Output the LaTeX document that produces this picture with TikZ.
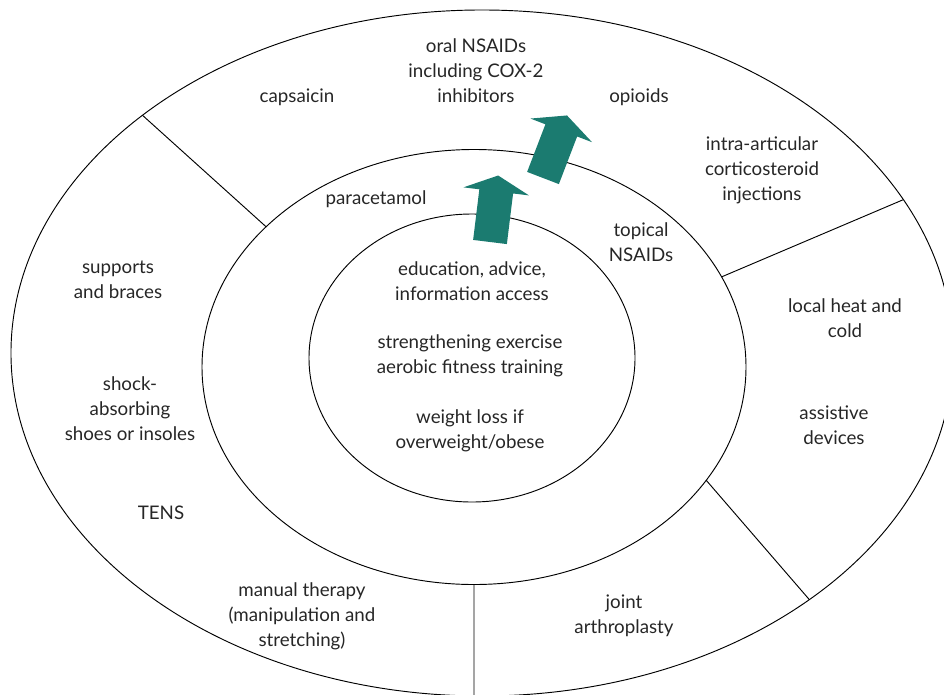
\documentclass[tikz,border=0pt]{standalone}
\usepackage{fontspec}
\setmainfont{Lato}
\usetikzlibrary{shapes.geometric}
\definecolor{tealarrow}{RGB}{27,123,112}
\begin{document}
\begin{tikzpicture}[x=0.03cm,y=-0.03cm,
  ring/.style={ellipse,draw,line width=0.8pt,inner sep=0pt,outer sep=0pt},
  lbl/.style={align=center,inner sep=0pt,font=\fontsize{16}{21.3}\selectfont,text=black!85},
  up/.style={fill=tealarrow}]
\useasboundingbox (0,0) rectangle (944,695);
\clip (0,0) rectangle (944,695);
% three rings
\node[ring,minimum width=28.26cm,minimum height=20.58cm] (outer) at (482,353) {};
\node[ring,minimum width=16.32cm,minimum height=13.05cm] (mid) at (474,367) {};
\node[ring,minimum width=9.78cm,minimum height=8.64cm] (core) at (472,358) {};
\draw[line width=0.8pt] (mid.146)--(outer.145) (mid.20)--(outer.20) (mid.-26)--(outer.-37) (mid.south)--(mid.south |- outer.south);
% core
\node[lbl] (edu) at (472,281) {education, advice,\\information access};
\node[lbl] (ex) at (470,356) {strengthening exercise\\aerobic fitness training};
\node[lbl] (wt) at (470,431) {weight loss if\\overweight/obese};
% middle ring
\node[lbl] (para) at (376,199) {paracetamol};
\node[lbl] (top) at (641,242) {topical\\NSAIDs};
% outer ring
\node[lbl] (oral) at (476,71) {oral NSAIDs\\including COX-2\\inhibitors};
\node[lbl] (caps) at (297,97) {capsaicin};
\node[lbl] (opi) at (639,97) {opioids};
\node[lbl] (intra) at (762,170) {intra-articular\\corticosteroid\\injections};
\node[lbl] (heat) at (845,318) {local heat and\\cold};
\node[lbl] (assist) at (834,425) {assistive\\devices};
\node[lbl] (joint) at (624,616) {joint\\arthroplasty};
\node[lbl] (manual) at (302,616) {manual therapy\\(manipulation and\\stretching)};
\node[lbl] (tens) at (161,513) {TENS};
\node[lbl] (shock) at (130,409) {shock-\\absorbing\\shoes or insoles};
\node[lbl] (supp) at (118,280) {supports\\and braces};
% step-up arrows
\fill[up,shift={(490,242)},rotate=-7] (-17,0)--(-17,-51)--(-33,-51)--(0,-67)--(33,-51)--(17,-51)--(17,0)--cycle;
\fill[up,shift={(543,178)},rotate=-21] (-17,0)--(-17,-51)--(-33,-51)--(0,-67)--(33,-51)--(17,-51)--(17,0)--cycle;
\end{tikzpicture}
\end{document}
